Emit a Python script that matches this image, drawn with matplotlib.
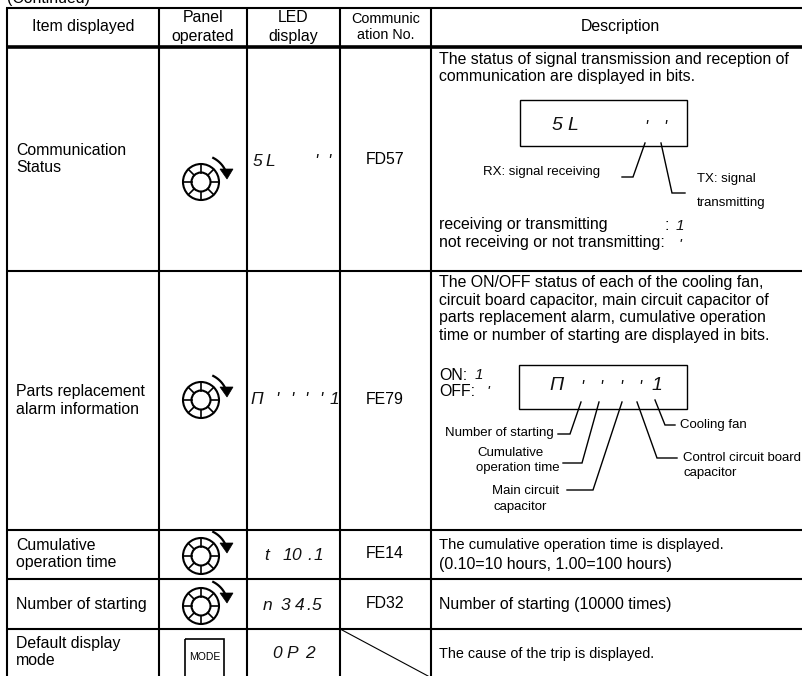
import numpy as np
import matplotlib
matplotlib.use("Agg")
import matplotlib.pyplot as plt
from matplotlib.patches import Circle, Rectangle, Polygon

plt.rcParams['font.family'] = ['Liberation Sans', 'DejaVu Sans']

# table grid, in pixels of the page
col_x = [7, 159, 247, 340, 431]
row_y = [8, 46.5, 271, 530, 579, 629]

headers = ["Item displayed", "Panel\noperated", "LED\ndisplay", "Communic\nation No.", "Description"]
items = ["Communication\nStatus", "Parts replacement\nalarm information", "Cumulative\noperation time",
         "Number of starting", "Default display\nmode"]
item_y = [159, 400.5, 554, 604, 652]
comm_no = ["FD57", "FE79", "FE14", "FD32", ""]
comm_y = [160, 400, 554, 604]
wheel_y = [182, 400, 556, 606]
descriptions = ["The status of signal transmission and reception of\ncommunication are displayed in bits.",
                "The ON/OFF status of each of the cooling fan,\ncircuit board capacitor, main circuit capacitor of\n"
                "parts replacement alarm, cumulative operation\ntime or number of starting are displayed in bits.",
                "The cumulative operation time is displayed.",
                "(0.10=10 hours, 1.00=100 hours)",
                "Number of starting (10000 times)",
                "The cause of the trip is displayed."]
desc_y = [68, 309, 545, 564, 605, 654]
desc_size = [11.4, 11.4, 10.66, 11.4, 11.4, 10.4]

FS = 11.4
SMALL = 9.5


def wheel(ax, cx, cy):
	ax.add_patch(Circle((cx, cy), 18, fill=False, ec="k", lw=1.5))
	ax.add_patch(Circle((cx, cy), 9.5, fill=False, ec="k", lw=1.5))
	for a in np.arange(0, 360, 45):
		c, s = np.cos(np.radians(a)), np.sin(np.radians(a))
		ax.plot([cx + 9.5 * c, cx + 18 * c], [cy + 9.5 * s, cy + 18 * s], color="k", lw=1.2)
	# arrow round the top right
	ang = np.radians(np.linspace(-63, -25, 12))
	ax.plot(cx + 27 * np.cos(ang), cy + 27 * np.sin(ang), color="k", lw=1.6)
	ax.add_patch(Polygon([(cx + 19, cy - 13), (cx + 32, cy - 13), (cx + 26, cy - 3)], fc="k", ec="k", lw=0.5))


def led(ax, x, y, chars, step, size=12.5):
	for i, ch in enumerate(chars):
		if ch != " ":
			ax.text(x + i * step, y, ch, fontsize=size, style="italic", ha="center", va="center", color="#111111")


def leader(ax, xs, ys):
	ax.plot(xs, ys, color="k", lw=1.0, solid_joinstyle="miter")


fig = plt.figure(figsize=(8.02, 6.76), dpi=100)
ax = fig.add_axes([0, 0, 1, 1])
ax.set_xlim(0, 802)
ax.set_ylim(676, 0)
ax.axis("off")

# grid
for x in col_x:
	ax.plot([x, x], [row_y[0], 676], color="k", lw=1.5, solid_capstyle="butt")
for i, y in enumerate(row_y):
	ax.plot([col_x[0] - 1, 802], [y, y], color="k", lw=2.6 if i == 1 else 1.5, solid_capstyle="butt")
ax.plot([340.7, 428], [629.3, 676], color="k", lw=0.8)

ax.text(7, -1, "(Continued)", fontsize=FS, ha="left", va="center")

centers = [83, 203, 293, 386, 620]
for i, h in enumerate(headers):
	size = 10.4 if i == 3 else FS
	ax.text(centers[i], 27, h, fontsize=size, ha="center", va="center", linespacing=1.25)

for txt, y in zip(items, item_y):
	ax.text(16, y, txt, fontsize=FS, ha="left", va="center", linespacing=1.2)
for txt, y in zip(comm_no, comm_y):
	ax.text(385, y, txt, fontsize=FS, ha="center", va="center")
for txt, y, size in zip(descriptions, desc_y, desc_size):
	ax.text(439, y, txt, fontsize=size, ha="left", va="center", linespacing=1.235)

for y in wheel_y:
	wheel(ax, 201, y)

# MODE key
ax.add_patch(Rectangle((185, 639), 39, 40, fill=False, ec="k", lw=1.2))
ax.text(205, 657, "MODE", fontsize=7.5, ha="center", va="center")

# LED column
led(ax, 257, 162, "5L", 13)
led(ax, 316, 162, "''", 13)
led(ax, 257, 400, "Π", 13)
led(ax, 277, 400, "''''", 14.5)
led(ax, 334, 400, "1", 13)
led(ax, 267, 555, "t", 10)
led(ax, 287, 555, "10", 9)
led(ax, 310, 555, ".1", 8)
led(ax, 268, 605, "n", 10)
led(ax, 285, 605, "34", 15)
led(ax, 309, 605, ".5", 7)
led(ax, 277, 653, "0", 10)
led(ax, 292, 653, "P2", 18)

# first diagram
ax.add_patch(Rectangle((520, 100), 167, 46, fill=False, ec="k", lw=1.0))
led(ax, 557, 125, "5L", 16, size=14)
led(ax, 646, 127, "''", 19, size=12)
leader(ax, [645, 633, 622], [143, 177, 177])
leader(ax, [661, 672, 685], [143, 193, 193])
ax.text(483, 172, "RX: signal receiving", fontsize=SMALL, va="center")
ax.text(697, 179, "TX: signal", fontsize=SMALL, va="center")
ax.text(697, 203, "transmitting", fontsize=SMALL, va="center")
ax.text(439, 225, "receiving or transmitting", fontsize=FS, va="center")
ax.text(664, 225, ":", fontsize=FS, va="center")
led(ax, 680, 226, "1", 10, size=11)
ax.text(439, 243, "not receiving or not transmitting:", fontsize=FS, va="center")
led(ax, 680, 245, "'", 10, size=11)

# second diagram
ax.text(439, 375, "ON:", fontsize=FS, va="center")
ax.text(439, 391, "OFF:", fontsize=FS, va="center")
led(ax, 479, 375, "1", 10, size=11)
led(ax, 488, 392, "'", 10, size=11)
ax.add_patch(Rectangle((519, 365), 168, 44, fill=False, ec="k", lw=1.0))
led(ax, 556, 385, "Π", 10, size=14)
led(ax, 582, 388, "''''", 19.3, size=12)
led(ax, 657, 385, "1", 10, size=14)
leader(ax, [581, 570, 558], [402, 434, 434])
leader(ax, [599, 582, 563], [402, 463, 463])
leader(ax, [622, 593, 567], [402, 490, 490])
leader(ax, [637, 657, 677], [402, 458, 458])
leader(ax, [655, 665, 675], [400, 425, 425])
ax.text(554, 433, "Number of starting", fontsize=SMALL, ha="right", va="center")
ax.text(477, 453, "Cumulative", fontsize=SMALL, va="center")
ax.text(476, 468, "operation time", fontsize=SMALL, va="center")
ax.text(492, 491, "Main circuit", fontsize=SMALL, va="center")
ax.text(493, 507, "capacitor", fontsize=SMALL, va="center")
ax.text(683, 458, "Control circuit board", fontsize=SMALL, va="center")
ax.text(684, 473, "capacitor", fontsize=SMALL, va="center")
ax.text(680, 425, "Cooling fan", fontsize=SMALL, va="center")

fig.savefig("out.png", dpi=100)
